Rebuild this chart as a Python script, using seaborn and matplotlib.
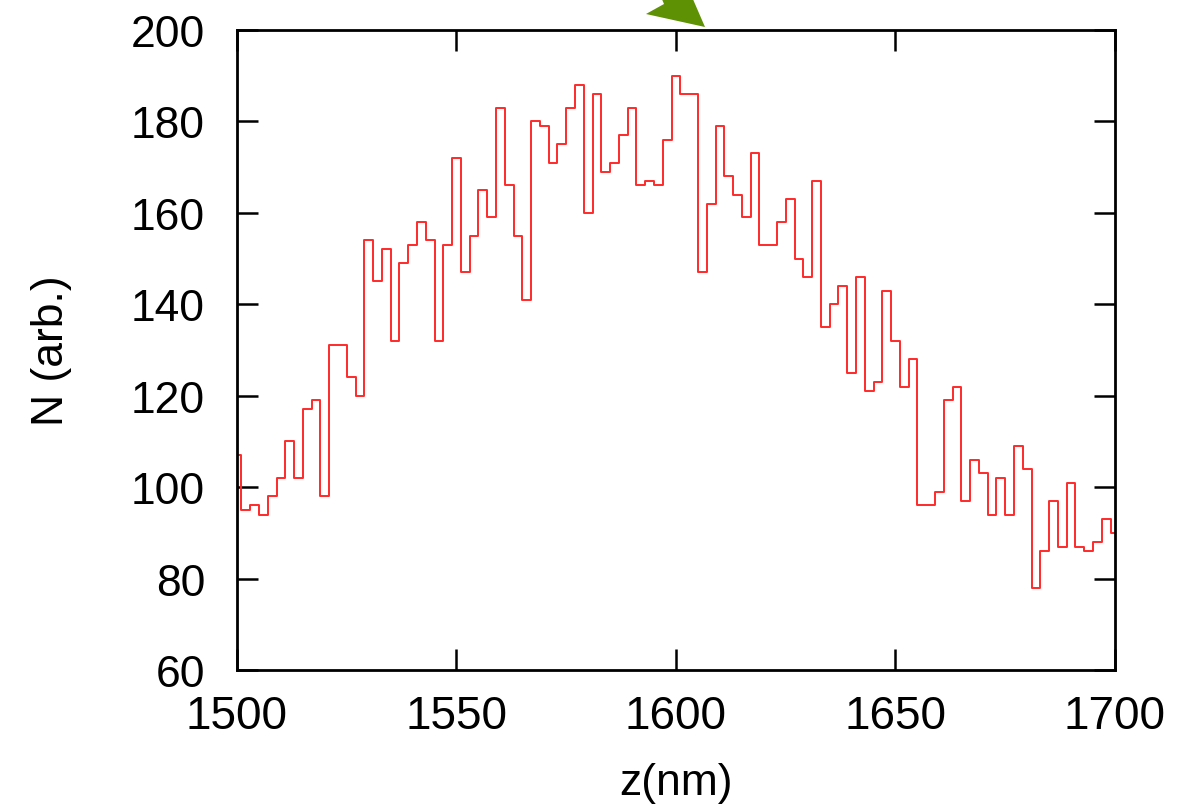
import numpy as np
import pandas as pd
import matplotlib
matplotlib.use("Agg")
import matplotlib.pyplot as plt
from matplotlib.patches import Polygon
import seaborn as sns

# ---- data (histogram counts at bin centres, 2 nm spacing) ----
z_start = 1500
z_stop = 1700
z_step = 2
counts = [
    107, 95, 96, 94, 98, 102, 110, 102, 117, 119,
    98, 131, 131, 124, 120, 154, 145, 152, 132, 149,
    153, 158, 154, 132, 153, 172, 147, 155, 165, 159,
    183, 166, 155, 141, 180, 179, 171, 175, 183, 188,
    160, 186, 169, 171, 177, 183, 166, 167, 166, 176,
    190, 186, 186, 147, 162, 179, 168, 164, 159, 173,
    153, 153, 158, 163, 150, 146, 167, 135, 140, 144,
    125, 146, 121, 123, 143, 132, 122, 128, 96, 96,
    99, 119, 122, 97, 106, 103, 94, 102, 94, 109,
    104, 78, 86, 97, 87, 101, 87, 86, 88, 93,
    90,
]
z = np.arange(z_start, z_stop + 1, z_step)
assert len(z) == len(counts)

x_ticks = [1500, 1550, 1600, 1650, 1700]
y_ticks = [60, 80, 100, 120, 140, 160, 180, 200]
x_label = "z(nm)"
y_label = "N (arb.)"

df = pd.DataFrame({"z": z, "N": counts})

# ---- style ----
sns.set_theme(style="ticks")
plt.rcParams["font.family"] = ["Liberation Sans", "DejaVu Sans"]

W, H = 1182, 812
fig = plt.figure(figsize=(W / 100, H / 100), dpi=100)
fig.patch.set_facecolor("white")
ax = fig.add_axes([237 / W, 1 - 671 / H, 878 / W, 640 / H])
ax.set_facecolor("white")

sns.lineplot(data=df, x="z", y="N", ax=ax, color="#ff2a2a", linewidth=1.4,
             drawstyle="steps-mid", estimator=None, sort=True)

ax.set_xlim(1500, 1700)
ax.set_ylim(60, 200)
ax.set_xticks(x_ticks)
ax.set_yticks(y_ticks)

for s in ax.spines.values():
    s.set_visible(True)
    s.set_color("black")
    s.set_linewidth(2.0)

ax.tick_params(axis="both", which="major", direction="in", length=15, width=1.8,
               color="black", top=True, right=True)
ax.tick_params(axis="y", labelsize=32, pad=23, labelcolor="black")
ax.tick_params(axis="x", labelsize=33, pad=17, labelcolor="black")

ax.set_xlabel(x_label, fontsize=32, color="black")
ax.set_ylabel(y_label, fontsize=32, color="black")
ax.yaxis.set_label_coords(-0.188, 0.5)
ax.xaxis.set_label_coords(0.5, -0.143)

# green arrowhead partly visible at top (figure pixel coords)
pts_px = [(646, 15), (705, 28), (692, -2), (661, -2), (664, 5)]
pts = [(x / W, 1 - y / H) for x, y in pts_px]
fig.patches.append(Polygon(pts, closed=True, transform=fig.transFigure,
                           facecolor="#5f9104", edgecolor="none", zorder=10))

fig.savefig("out.png", dpi=100, facecolor="white")
